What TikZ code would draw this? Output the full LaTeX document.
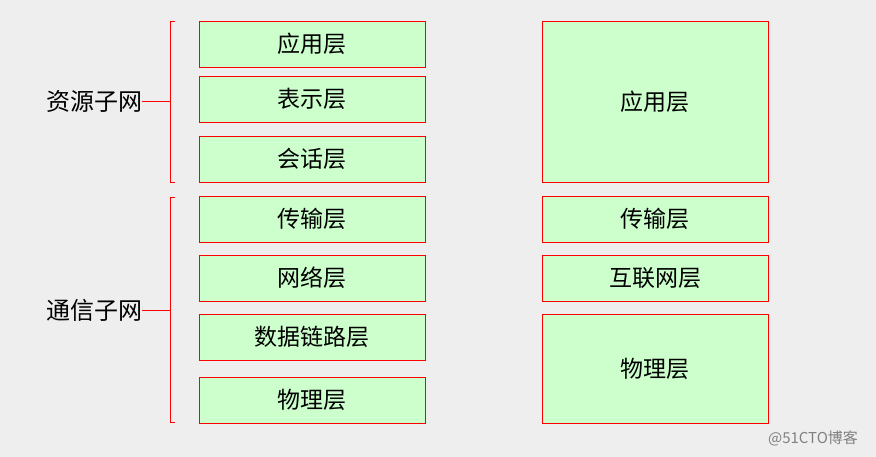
\documentclass[tikz,border=0pt]{standalone}
\usepackage{fontspec}
\setmainfont{Noto Sans CJK SC}
\usetikzlibrary{positioning}
\definecolor{boxgreen}{HTML}{CCFFCC}
\definecolor{bggray}{HTML}{EEEEEE}
\tikzstyle{Layer} = [draw=red, fill=boxgreen, line width=0.8pt, rectangle, minimum width=226pt, minimum height=46pt, inner sep=0pt, font=\fontsize{23}{27}\selectfont]
\tikzstyle{Net} = [inner sep=0pt, font=\fontsize{24}{28}\selectfont]
\tikzstyle{Brace} = [draw=red, line width=0.8pt]

\begin{document}
\begin{tikzpicture}[x=1pt, y=-1pt]
    \useasboundingbox[fill=bggray] (0,0) rectangle (876,457);
    % OSI model
    \node[Layer] (app)       at (312,44)  {应用层};
    \node[Layer] (pres)      at (312,99)  {表示层};
    \node[Layer] (sess)      at (312,159) {会话层};
    \node[Layer] (trans)     at (312,219) {传输层};
    \node[Layer] (network)   at (312,278) {网络层};
    \node[Layer] (datalink)  at (312,337) {数据链路层};
    \node[Layer] (phys)      at (312,400) {物理层};
    % TCP/IP model
    \node[Layer, minimum height=161pt] (tcpapp)   at (655,101.5) {应用层};
    \node[Layer]                       (tcptrans) at (655,219)   {传输层};
    \node[Layer]                       (tcpnet)   at (655,278)   {互联网层};
    \node[Layer, minimum height=109pt] (tcpphys)  at (655,368.5) {物理层};
    % subnets
    \coordinate (resmid) at (170,101.5);
    \coordinate (commid) at (170,310);
    \node[Net] (res) at (94,101.5) {资源子网};
    \node[Net] (com) at (94,310)   {通信子网};
    \draw[Brace] (175,21) -- (170,21) -- (170,182) -- (175,182);
    \draw[Brace] (175,197) -- (170,197) -- (170,422) -- (175,422);
    \draw[Brace] (res.east) -- (resmid);
    \draw[Brace] (com.east) -- (commid);
    \node[text=gray, font=\fontsize{15}{17}\selectfont] (mark) at (813,438) {@51CTO博客};
\end{tikzpicture}
\end{document}
